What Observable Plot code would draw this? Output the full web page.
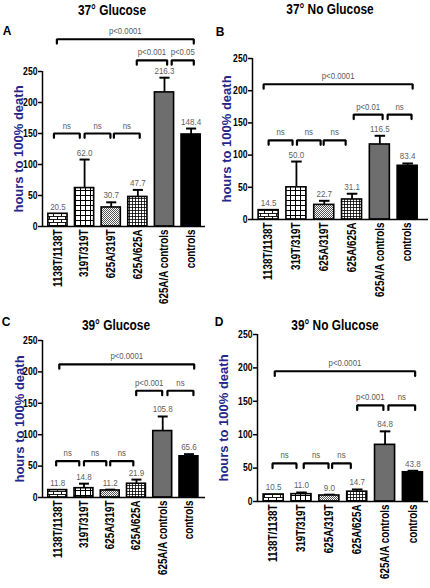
<!DOCTYPE html>
<html><head><meta charset="utf-8">
<script src="https://cdn.jsdelivr.net/npm/d3@7"></script>
<script src="https://cdn.jsdelivr.net/npm/@observablehq/plot@0.6"></script>
<style>
body{margin:0;background:#fff;}
#wrap{position:relative;width:430px;height:588px;overflow:hidden;background:#fff;}
.panel{position:absolute;}
.title{position:absolute;font-weight:bold;font-size:14.5px;font-family:'Liberation Sans',Arial,sans-serif;transform:translate(-50%,-50%) scaleX(0.82);white-space:nowrap;color:#000;}
.letter{position:absolute;font:bold 12px 'Liberation Sans',Arial,sans-serif;transform:translate(-50%,-50%);color:#000;}
</style></head><body><div id="wrap"></div>
<script>
// ---- data ----
const categories = ["1138T/1138T","319T/319T","625A/319T","625A/625A","625A/A controls","controls"];
const yTicks = [0,50,100,150,200,250];
const titles = ["37° Glucose","37° No Glucose","39° Glucose","39° No Glucose"];
const panelLetters = ["A","B","C","D"];

const meansA = [20.5,62.0,30.7,47.7,216.3,148.4];
const errTopA = [20.5,108,39,59,240,158];
const meansB = [14.5,50.0,22.7,31.1,116.5,83.4];
const errTopB = [14.5,90,29,40,130,87];
const meansC = [11.8,14.8,11.2,21.9,105.8,65.6];
const errTopC = [11.8,22,12.5,28.5,129,69];
const meansD = [10.5,11.0,9.0,14.7,84.8,43.8];
const errTopD = [10.5,13.5,10.2,18,105,46];

// brackets: [from (bar index units), to, level (hours), label]
const bracketsA = [[-0.15,0.82,150,"ns"],[1.0,1.97,150,"ns"],[2.1,3.07,150,"ns"],[2.96,4.1,268,"p<0.001"],[4.27,5.1,268,"p<0.05"],[-0.04,5.1,302,"p<0.0001"]];
const bracketsB = [[0,0.86,123,"ns"],[1.02,1.87,123,"ns"],[1.98,2.77,123,"ns"],[3.06,4.1,163,"p<0.01"],[4.28,5.14,163,"ns"],[-0.18,5.18,210,"p<0.0001"]];
const bracketsC = [[-0.06,0.82,58,"ns"],[1.0,1.85,58,"ns"],[2.0,2.88,58,"ns"],[2.99,3.98,170,"p<0.001"],[4.18,5.17,170,"ns"],[0.06,5.2,212,"p<0.0001"]];
const bracketsD = [[-0.04,0.82,57,"ns"],[1.08,1.97,57,"ns"],[2.1,2.77,57,"ns"],[3.0,3.94,144,"p<0.001"],[4.12,5.08,144,"ns"],[0.04,5.08,195,"p<0.0001"]];

// ---- rendering ----
const font = "'Liberation Sans',Arial,sans-serif";
const narrowFactor = 0.82;
const yLabelText = "hours to 100% death";
const panels = [
  {means: meansA, errs: errTopA, brackets: bracketsA, italicNs: true,  left:0,   top:0,   width:215, height:305, ml:42, mr:10, mt:71, mb:79, xmax:5.54, ylabDx:-24, tx:112, ty:10,  lx:7,   ly:31},
  {means: meansB, errs: errTopB, brackets: bracketsB, italicNs: false, left:215, top:0,   width:215, height:305, ml:37, mr:2,  mt:58, mb:86, xmax:5.75, ylabDx:-26, tx:330, ty:9,   lx:220, ly:32},
  {means: meansC, errs: errTopC, brackets: bracketsC, italicNs: false, left:0,   top:290, width:215, height:298, ml:42, mr:10, mt:50, mb:91, xmax:5.63, ylabDx:-23, tx:116, ty:325, lx:6,   ly:322},
  {means: meansD, errs: errTopD, brackets: bracketsD, italicNs: false, left:215, top:290, width:215, height:298, ml:42, mr:2,  mt:44, mb:87, xmax:5.56, ylabDx:-34, tx:335, ty:325, lx:219, ly:322}
];
const xmin = -0.58;
const wrap = document.getElementById("wrap");

function defsMark(s) {
  return () => {
    const ns = "http://www.w3.org/2000/svg";
    const d = document.createElementNS(ns, "defs");
    d.innerHTML =
      `<pattern id="brick${s}" width="8" height="6" patternUnits="userSpaceOnUse"><rect width="8" height="6" fill="#fff"/><path d="M0,0.5H8M0,3.5H8M1.5,0.5V3.5M5.5,3.5V6.5" stroke="#000" stroke-width="0.9" fill="none"/></pattern>` +
      `<pattern id="grid${s}" width="5" height="5" patternUnits="userSpaceOnUse"><rect width="5" height="5" fill="#fff"/><path d="M0,0.5H5M0.5,0V5" stroke="#000" stroke-width="1" fill="none"/></pattern>` +
      `<pattern id="check${s}" width="2" height="2" patternUnits="userSpaceOnUse"><rect width="2" height="2" fill="#fff"/><rect width="1" height="1" fill="#555"/><rect x="1" y="1" width="1" height="1" fill="#555"/></pattern>` +
      `<pattern id="fine${s}" width="3" height="3" patternUnits="userSpaceOnUse"><rect width="3" height="3" fill="#fff"/><path d="M0,0.5H3M0.5,0V3" stroke="#000" stroke-width="0.8" fill="none"/></pattern>`;
    return d;
  };
}

// emulate a narrow (Arial Narrow-like) face by compressing glyphs along the baseline
function narrowTexts(svg) {
  svg.querySelectorAll("text").forEach(t => {
    if (t.textContent === yLabelText) return;
    const tspans = t.querySelectorAll("tspan");
    const els = tspans.length ? [...tspans] : [t];
    els.forEach(el => {
      const len = el.getComputedTextLength();
      if (len > 0) {
        el.setAttribute("textLength", (len * narrowFactor).toFixed(2));
        el.setAttribute("lengthAdjust", "spacingAndGlyphs");
      }
    });
  });
}

panels.forEach((p, k) => {
  const s = panelLetters[k];
  const fills = [`url(#brick${s})`,`url(#grid${s})`,`url(#check${s})`,`url(#fine${s})`,"#6e6e6e","#000"];
  const bars = p.means.map((m, i) => ({i, mean: m, top: Math.max(m, p.errs[i]), fill: fills[i]}));
  const errBars = bars.filter(d => d.top > d.mean + 0.5);
  const leg = 7;
  const bpts = p.brackets.flatMap((b, j) => [
    {id: j, x: b[0], y: b[2] - leg},
    {id: j, x: b[0], y: b[2]},
    {id: j, x: b[1], y: b[2]},
    {id: j, x: b[1], y: b[2] - leg}
  ]);
  const blabels = p.brackets.map(b => ({x: (b[0] + b[1]) / 2, y: b[2], label: b[3]}));
  const chart = Plot.plot({
    width: p.width, height: p.height,
    marginLeft: p.ml, marginRight: p.mr, marginTop: p.mt, marginBottom: p.mb,
    style: {background: "transparent", overflow: "visible", fontFamily: font},
    x: {domain: [xmin, p.xmax]},
    y: {domain: [0, 250]},
    marks: [
      defsMark(s),
      Plot.ruleX(errBars, {x: "i", y1: "mean", y2: "top", stroke: "#000", strokeWidth: 1.8}),
      Plot.link(errBars, {x1: d => d.i - 0.19, x2: d => d.i + 0.19, y1: "top", y2: "top", stroke: "#000", strokeWidth: 2}),
      Plot.rect(bars, {x1: d => d.i - 0.36, x2: d => d.i + 0.36, y1: 0, y2: "mean", fill: d => d.fill, stroke: "#000", strokeWidth: 1.6}),
      Plot.ruleX([xmin], {y1: 0, y2: 250, stroke: "#000", strokeWidth: 1.5}),
      Plot.ruleY([0], {stroke: "#000", strokeWidth: 1.5}),
      Plot.axisY({ticks: yTicks, tickSize: 4, tickPadding: 1, fontWeight: "bold", fontSize: 10.5, fontFamily: font, label: null, strokeWidth: 1.5}),
      Plot.axisX({ticks: [0,1,2,3,4,5], tickFormat: i => categories[i], tickRotate: -90, tickSize: 0, tickPadding: 3, fontWeight: "bold", fontSize: 12, fontFamily: font, label: null}),
      Plot.text(bars, {x: "i", y: "top", text: d => d.mean.toFixed(1), lineAnchor: "bottom", dy: -4, fill: "#5f5f5f", fontSize: 9.8, fontFamily: font}),
      Plot.line(bpts, {x: "x", y: "y", z: "id", stroke: "#000", strokeWidth: 2.2, strokeLinejoin: "miter", curve: "linear"}),
      Plot.text(blabels, {x: "x", y: "y", text: "label", lineAnchor: "bottom", dy: -5, fill: "#5a5a5a", fontSize: 9.5, fontFamily: font, fontStyle: d => (p.italicNs && d.label === "ns") ? "italic" : "normal"}),
      Plot.text([yLabelText], {frameAnchor: "left", textAnchor: "middle", rotate: -90, dx: p.ylabDx, text: d => d, fill: "#26268c", fontWeight: "bold", fontSize: 13, fontFamily: font, lineAnchor: "middle"})
    ]
  });
  chart.classList.add("panel");
  chart.style.left = p.left + "px";
  chart.style.top = p.top + "px";
  wrap.appendChild(chart);
  narrowTexts(chart);

  const t = document.createElement("div");
  t.className = "title";
  t.textContent = titles[k];
  t.style.left = p.tx + "px"; t.style.top = p.ty + "px";
  wrap.appendChild(t);
  const l = document.createElement("div");
  l.className = "letter";
  l.textContent = s;
  l.style.left = p.lx + "px"; l.style.top = p.ly + "px";
  wrap.appendChild(l);
});
</script>
</body></html>
